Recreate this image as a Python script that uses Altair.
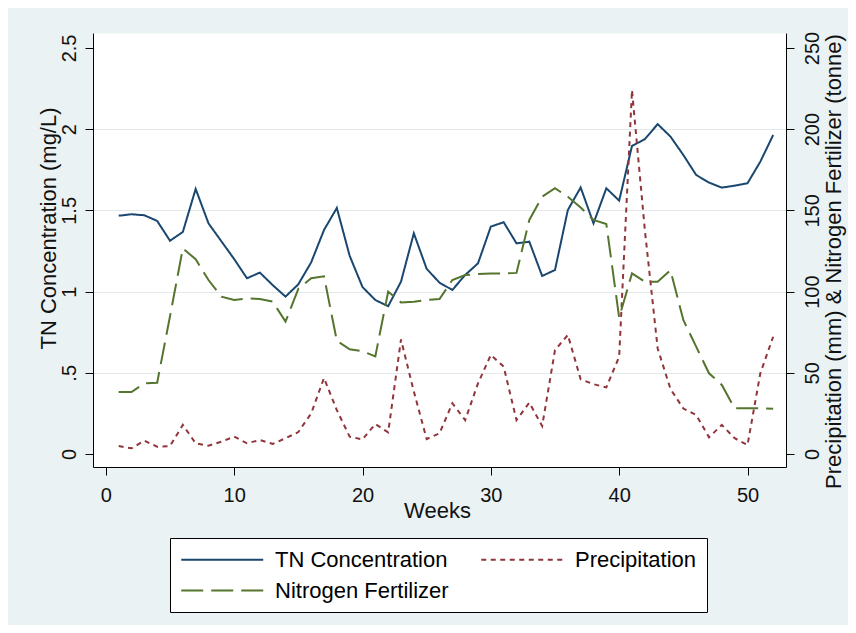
import altair as alt
import pandas as pd

weeks = list(range(1, 53))

tn_conc = [1.467, 1.476, 1.470, 1.435, 1.313, 1.367, 1.632, 1.420, 1.31, 1.20,
           1.082, 1.117, 1.040, 0.969, 1.045, 1.180, 1.379, 1.515, 1.220, 1.028,
           0.948, 0.910, 1.061, 1.359, 1.140, 1.055, 1.010, 1.102, 1.174, 1.400,
           1.427, 1.297, 1.307, 1.096, 1.133, 1.502, 1.641, 1.420, 1.636, 1.560,
           1.897, 1.938, 2.031, 1.954, 1.841, 1.718, 1.671, 1.640, 1.652, 1.667,
           1.800, 1.964]

precipitation = [4.9, 3.5, 8.2, 4.5, 4.9, 17.9, 6.6, 5.1, 7.6, 10.7,
                 6.6, 8.6, 6.2, 9.7, 13.5, 25.0, 46.8, 27.0, 10.7, 9.0,
                 18.5, 13.3, 70.5, 38.5, 9.2, 12.7, 31.2, 20.9, 43.5, 61.0,
                 53.8, 20.9, 31.6, 17.2, 64.0, 73.3, 46.0, 43.0, 41.0, 59.9,
                 224.0, 138.0, 65.0, 40.0, 28.0, 24.0, 10.3, 17.9, 9.7, 5.5,
                 49.7, 72.2]

fertilizer = [38.2, 38.2, 43.5, 43.9, 84.8, 126.6, 119.9, 107.1, 96.9, 94.8,
              95.8, 95.4, 93.8, 81.5, 101.7, 108.2, 109.4, 69.7, 64.5, 63.3,
              60.1, 100.0, 93.3, 93.8, 94.8, 95.4, 107.1, 110.2, 110.8, 111.2,
              111.2, 111.5, 144.1, 158.4, 163.6, 158.4, 151.8, 144.1, 141.6, 84.0,
              111.2, 106.1, 106.1, 113.1, 82.5, 66.1, 49.7, 42.5, 28.1, 28.1,
              28.1, 27.9]

series_names = ["TN Concentration", "Precipitation", "Nitrogen Fertilizer"]
series_colors = ["#1A476F", "#90353B", "#55752F"]
series_dashes = [[1, 0], [5, 4.5], [22, 8]]

left_ticks = [0, 0.5, 1, 1.5, 2, 2.5]
right_ticks = [0, 50, 100, 150, 200, 250]
x_ticks = [0, 10, 20, 30, 40, 50]

FONT = "Liberation Sans, Arial, sans-serif"

left_df = pd.DataFrame({"week": weeks, "value": tn_conc,
                        "series": [series_names[0]] * len(weeks)})
right_df = pd.DataFrame({
    "week": weeks + weeks,
    "value": precipitation + fertilizer,
    "series": [series_names[1]] * len(weeks) + [series_names[2]] * len(weeks),
})

legend = alt.Legend(
    title=None, orient="none", legendX=77, legendY=505, columns=2,
    direction="horizontal",
    symbolType="M-1,0H7", symbolSize=420, symbolStrokeWidth=2,
    labelFont=FONT, labelFontSize=22, labelColor="#000", labelOffset=72,
    labelLimit=0, columnPadding=28, rowPadding=8, padding=10,
    strokeColor="#000", fillColor="white",
)

color = alt.Color("series:N", scale=alt.Scale(domain=series_names, range=series_colors), legend=legend)
dash = alt.StrokeDash("series:N", scale=alt.Scale(domain=series_names, range=series_dashes), legend=legend)

x_axis = alt.Axis(values=x_ticks, title="Weeks", grid=False, tickSize=8, labelPadding=10,
                  labelFontSize=20, titleFontSize=22, titleX=344, titleY=43,
                  titleAlign="center", titleBaseline="middle", format="d")
x_enc = alt.X("week:Q", scale=alt.Scale(domain=[-1, 53], nice=False, zero=False), axis=x_axis)

grid_cond = {"condition": {"test": "datum.value > 0.01 && datum.value < 2.49", "value": 1}, "value": 0}

left = alt.Chart(left_df).mark_line(strokeWidth=2).encode(
    x=x_enc,
    y=alt.Y("value:Q",
            scale=alt.Scale(domain=[-0.08, 2.592], nice=False, zero=False),
            axis=alt.Axis(orient="left", values=left_ticks, grid=True,
                          gridColor="#e3e8ea", gridWidth=1.2, gridOpacity=grid_cond,
                          labelExpr="datum.value == 0.5 ? '.5' : format(datum.value, '~g')",
                          labelAngle=270, labelAlign="center", labelBaseline="bottom",
                          labelPadding=6, labelFontSize=20, tickSize=8,
                          title="TN Concentration (mg/L)", titleFontSize=22,
                          titleAngle=270, titleX=-45, titleY=195,
                          titleAlign="center", titleBaseline="middle")),
    color=color,
    strokeDash=dash,
)

right = alt.Chart(right_df).mark_line(strokeWidth=2).encode(
    x=x_enc,
    y=alt.Y("value:Q",
            scale=alt.Scale(domain=[-8.0, 259.2], nice=False, zero=False),
            axis=alt.Axis(orient="right", values=right_ticks, grid=False, format="d",
                          labelAngle=270, labelAlign="center", labelBaseline="top",
                          labelPadding=8, labelFontSize=20, tickSize=8,
                          title="Precipitation (mm) & Nitrogen Fertilizer (tonne)",
                          titleFontSize=22, titleAngle=270, titleX=47, titleY=228,
                          titleAlign="center", titleBaseline="middle")),
    color=color,
    strokeDash=dash,
)

chart = alt.layer(left, right).resolve_scale(y="independent").properties(
    width=693, height=434,
    autosize=alt.AutoSizeParams(type="none"),
    padding={"left": 85, "top": 25, "right": 62, "bottom": 158},
).configure(
    background="#EAF2F3",
).configure_view(
    fill="white", stroke="transparent",
).configure_axis(
    labelFont=FONT, titleFont=FONT, labelColor="#111", titleColor="#111",
    titleFontWeight="normal", domainColor="#000", domainWidth=1,
    tickColor="#000", tickWidth=1,
)

chart.save("out.html", embed_options={"renderer": "svg", "actions": False})
